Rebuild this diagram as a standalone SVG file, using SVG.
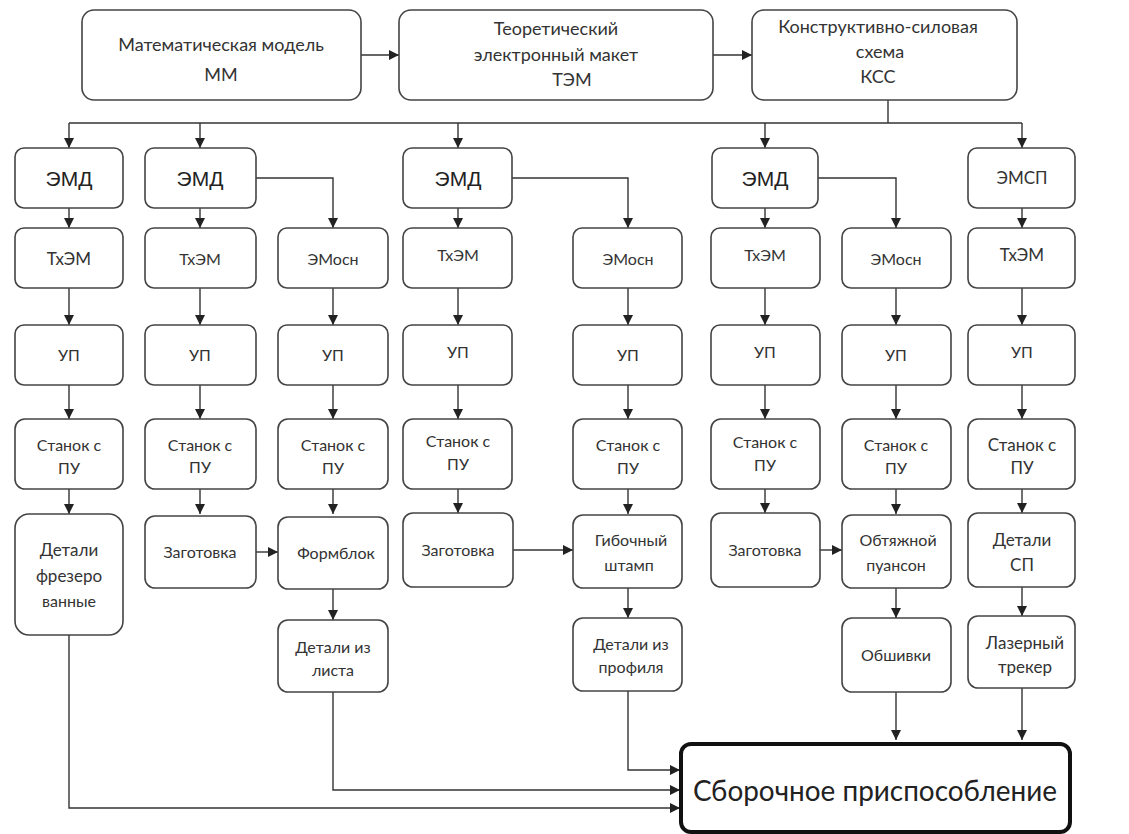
<svg xmlns="http://www.w3.org/2000/svg" width="1129" height="834" viewBox="0 0 1129 834">
<defs>
<marker id="ah" markerUnits="userSpaceOnUse" markerWidth="10" markerHeight="10" refX="10" refY="5" orient="auto">
<path d="M0,0 L10,5 L0,10 z" fill="#222"/>
</marker>
<style>
.b{fill:#fff;stroke:#444;stroke-width:1.6}
.t{font-family:Lato,"Open Sans","Noto Sans",sans-serif;font-size:16px;fill:#333;text-anchor:middle}
.tt{font-family:Lato,"Open Sans","Noto Sans",sans-serif;font-size:18px;fill:#333;text-anchor:middle}
.e{font-family:"Liberation Sans",Arial,sans-serif;font-size:21px;fill:#222;text-anchor:middle}
.c{fill:none;stroke:#333;stroke-width:1.4;marker-end:url(#ah)}
.l{fill:none;stroke:#333;stroke-width:1.4}
</style>
</defs>
<rect width="1129" height="834" fill="#fff"/>

<g id="connectors">
<path class="c" d="M361,55 H399"/>
<path class="c" d="M713,55 H752"/>
<path class="l" d="M888,100 V123"/>
<path class="l" d="M69,123 H1022"/>
<path class="c" d="M69,123 V148"/>
<path class="c" d="M200,123 V148"/>
<path class="c" d="M458,123 V148"/>
<path class="c" d="M765,123 V148"/>
<path class="c" d="M1022,123 V148"/>
<path class="c" d="M256,178 H333 V228"/>
<path class="c" d="M512,178 H628 V228"/>
<path class="c" d="M818,178 H896 V228"/>
<path class="c" d="M69,208 V228"/>
<path class="c" d="M200,208 V228"/>
<path class="c" d="M458,208 V228"/>
<path class="c" d="M765,208 V228"/>
<path class="c" d="M1022,208 V228"/>
<path class="c" d="M69,288 V325"/>
<path class="c" d="M200,288 V325"/>
<path class="c" d="M333,288 V325"/>
<path class="c" d="M458,288 V325"/>
<path class="c" d="M628,288 V325"/>
<path class="c" d="M765,288 V325"/>
<path class="c" d="M896,288 V325"/>
<path class="c" d="M1022,288 V325"/>
<path class="c" d="M69,385 V419"/>
<path class="c" d="M200,385 V419"/>
<path class="c" d="M333,385 V419"/>
<path class="c" d="M458,385 V419"/>
<path class="c" d="M628,385 V419"/>
<path class="c" d="M765,385 V419"/>
<path class="c" d="M896,385 V419"/>
<path class="c" d="M1022,385 V419"/>
<path class="c" d="M69,489 V514"/>
<path class="c" d="M200,489 V514"/>
<path class="c" d="M333,489 V514"/>
<path class="c" d="M458,489 V513"/>
<path class="c" d="M628,489 V514"/>
<path class="c" d="M765,489 V513"/>
<path class="c" d="M896,489 V514"/>
<path class="c" d="M1022,489 V513"/>
<path class="c" d="M256,552 H278"/>
<path class="c" d="M513,550 H573"/>
<path class="c" d="M820,550 H842"/>
<path class="c" d="M333,589 V620"/>
<path class="c" d="M628,588 V618"/>
<path class="c" d="M896,588 V618"/>
<path class="c" d="M1022,587 V616"/>
<path class="c" d="M896,692 V740"/>
<path class="c" d="M1022,688 V740"/>
<path class="c" d="M628,691 V770 H680"/>
<path class="c" d="M333,692 V790 H680"/>
<path class="c" d="M69,635 V808 H680"/>
</g>

<g id="mm"><rect class="b" x="82" y="10" width="279" height="90" rx="12"/>
<text class="tt" x="221" y="51">Математическая модель</text><text class="tt" x="221" y="81">ММ</text></g>
<g id="tem"><rect class="b" x="399" y="10" width="314" height="90" rx="12"/>
<text class="tt" x="556" y="35">Теоретический</text><text class="tt" x="556" y="61">электронный макет</text><text class="tt" x="572" y="86">ТЭМ</text></g>
<g id="kss"><rect class="b" x="752" y="10" width="265" height="90" rx="12"/>
<text class="tt" x="878" y="33">Конструктивно-силовая</text><text class="tt" x="880" y="58">схема</text><text class="tt" x="878" y="83">КСС</text></g>

<g id="emd1"><rect class="b" x="15" y="148" width="108" height="60" rx="9"/><text class="e" x="69" y="186">ЭМД</text></g>
<g id="emd2"><rect class="b" x="145" y="148" width="111" height="60" rx="9"/><text class="e" x="200" y="186">ЭМД</text></g>
<g id="emd3"><rect class="b" x="403" y="148" width="109" height="60" rx="9"/><text class="e" x="458" y="186">ЭМД</text></g>
<g id="emd4"><rect class="b" x="712" y="148" width="106" height="60" rx="9"/><text class="e" x="765" y="186">ЭМД</text></g>
<g id="emsp"><rect class="b" x="968" y="148" width="107" height="60" rx="9"/><text class="t" x="1022" y="184" style="font-size:17px">ЭМСП</text></g>

<g id="txem1"><rect class="b" x="15" y="228" width="108" height="60" rx="9"/><text class="t" x="69" y="265" style="font-size:17px">ТхЭМ</text></g>
<g id="txem2"><rect class="b" x="145" y="228" width="111" height="60" rx="9"/><text class="t" x="200" y="265">ТхЭМ</text></g>
<g id="emosn1"><rect class="b" x="278" y="228" width="110" height="60" rx="9"/><text class="t" x="333" y="265">ЭМосн</text></g>
<g id="txem3"><rect class="b" x="403" y="228" width="109" height="60" rx="9"/><text class="t" x="458" y="261">ТхЭМ</text></g>
<g id="emosn2"><rect class="b" x="573" y="228" width="109" height="60" rx="9"/><text class="t" x="628" y="265">ЭМосн</text></g>
<g id="txem4"><rect class="b" x="711" y="228" width="109" height="60" rx="9"/><text class="t" x="765" y="261">ТхЭМ</text></g>
<g id="emosn3"><rect class="b" x="842" y="228" width="109" height="60" rx="9"/><text class="t" x="896" y="265">ЭМосн</text></g>
<g id="txem5"><rect class="b" x="968" y="228" width="107" height="60" rx="9"/><text class="t" x="1022" y="261" style="font-size:17px">ТхЭМ</text></g>

<g id="up1"><rect class="b" x="15" y="325" width="108" height="60" rx="9"/><text class="t" x="69" y="361">УП</text></g>
<g id="up2"><rect class="b" x="145" y="325" width="111" height="60" rx="9"/><text class="t" x="200" y="361">УП</text></g>
<g id="up3"><rect class="b" x="278" y="325" width="110" height="60" rx="9"/><text class="t" x="333" y="361">УП</text></g>
<g id="up4"><rect class="b" x="403" y="325" width="109" height="60" rx="9"/><text class="t" x="458" y="358">УП</text></g>
<g id="up5"><rect class="b" x="573" y="325" width="109" height="60" rx="9"/><text class="t" x="628" y="361">УП</text></g>
<g id="up6"><rect class="b" x="711" y="325" width="109" height="60" rx="9"/><text class="t" x="765" y="358">УП</text></g>
<g id="up7"><rect class="b" x="842" y="325" width="109" height="60" rx="9"/><text class="t" x="896" y="361">УП</text></g>
<g id="up8"><rect class="b" x="968" y="325" width="107" height="60" rx="9"/><text class="t" x="1022" y="358">УП</text></g>

<g id="st1"><rect class="b" x="15" y="419" width="108" height="70" rx="10"/><text class="t" x="69" y="451">Станок с</text><text class="t" x="69" y="474">ПУ</text></g>
<g id="st2"><rect class="b" x="145" y="419" width="111" height="70" rx="10"/><text class="t" x="200" y="451">Станок с</text><text class="t" x="200" y="473">ПУ</text></g>
<g id="st3"><rect class="b" x="278" y="419" width="110" height="70" rx="10"/><text class="t" x="333" y="451">Станок с</text><text class="t" x="333" y="474">ПУ</text></g>
<g id="st4"><rect class="b" x="403" y="419" width="109" height="70" rx="10"/><text class="t" x="458" y="447">Станок с</text><text class="t" x="458" y="470">ПУ</text></g>
<g id="st5"><rect class="b" x="573" y="419" width="109" height="70" rx="10"/><text class="t" x="628" y="451">Станок с</text><text class="t" x="628" y="474">ПУ</text></g>
<g id="st6"><rect class="b" x="711" y="419" width="109" height="70" rx="10"/><text class="t" x="765" y="448">Станок с</text><text class="t" x="765" y="471">ПУ</text></g>
<g id="st7"><rect class="b" x="842" y="419" width="109" height="70" rx="10"/><text class="t" x="896" y="451">Станок с</text><text class="t" x="896" y="474">ПУ</text></g>
<g id="st8"><rect class="b" x="968" y="419" width="107" height="70" rx="10"/><text class="t" x="1022" y="451" style="font-size:17px">Станок с</text><text class="t" x="1022" y="474" style="font-size:17px">ПУ</text></g>

<g id="dfrez"><rect class="b" x="15" y="514" width="108" height="121" rx="14"/><text class="t" x="69" y="556" style="font-size:17px">Детали</text><text class="t" x="69" y="582" style="font-size:17px">фрезеро</text><text class="t" x="69" y="607">ванные</text></g>
<g id="zag1"><rect class="b" x="145" y="516" width="111" height="72" rx="10"/><text class="t" x="200" y="558">Заготовка</text></g>
<g id="formblok"><rect class="b" x="278" y="517" width="110" height="72" rx="10"/><text class="t" x="336" y="559">Формблок</text></g>
<g id="zag2"><rect class="b" x="403" y="513" width="110" height="74" rx="10"/><text class="t" x="458" y="556">Заготовка</text></g>
<g id="gib"><rect class="b" x="573" y="515" width="109" height="73" rx="10"/><text class="t" x="631" y="546">Гибочный</text><text class="t" x="629" y="571">штамп</text></g>
<g id="zag3"><rect class="b" x="711" y="513" width="109" height="74" rx="10"/><text class="t" x="765" y="556">Заготовка</text></g>
<g id="obt"><rect class="b" x="842" y="515" width="109" height="73" rx="10"/><text class="t" x="898" y="546">Обтяжной</text><text class="t" x="896" y="571">пуансон</text></g>
<g id="dsp"><rect class="b" x="968" y="513" width="107" height="74" rx="10"/><text class="t" x="1022" y="546" style="font-size:17px">Детали</text><text class="t" x="1022" y="571" style="font-size:17px">СП</text></g>

<g id="dlist"><rect class="b" x="278" y="620" width="110" height="72" rx="10"/><text class="t" x="333" y="653">Детали из</text><text class="t" x="333" y="676">листа</text></g>
<g id="dprof"><rect class="b" x="573" y="618" width="109" height="73" rx="10"/><text class="t" x="631" y="650">Детали из</text><text class="t" x="631" y="673">профиля</text></g>
<g id="obsh"><rect class="b" x="842" y="618" width="109" height="74" rx="10"/><text class="t" x="896" y="661">Обшивки</text></g>
<g id="laser"><rect class="b" x="968" y="616" width="107" height="72" rx="10"/><text class="t" x="1025" y="649" style="font-size:17px">Лазерный</text><text class="t" x="1025" y="673" style="font-size:17px">трекер</text></g>

<g id="final"><rect x="681" y="744" width="389" height="88" rx="10" fill="#fff" stroke="#111" stroke-width="4"/>
<text x="875" y="801" textLength="364" lengthAdjust="spacingAndGlyphs" style="font-family:Lato,'Open Sans','Noto Sans',sans-serif;font-size:29px;fill:#222;text-anchor:middle">Сборочное приспособление</text></g>
</svg>
